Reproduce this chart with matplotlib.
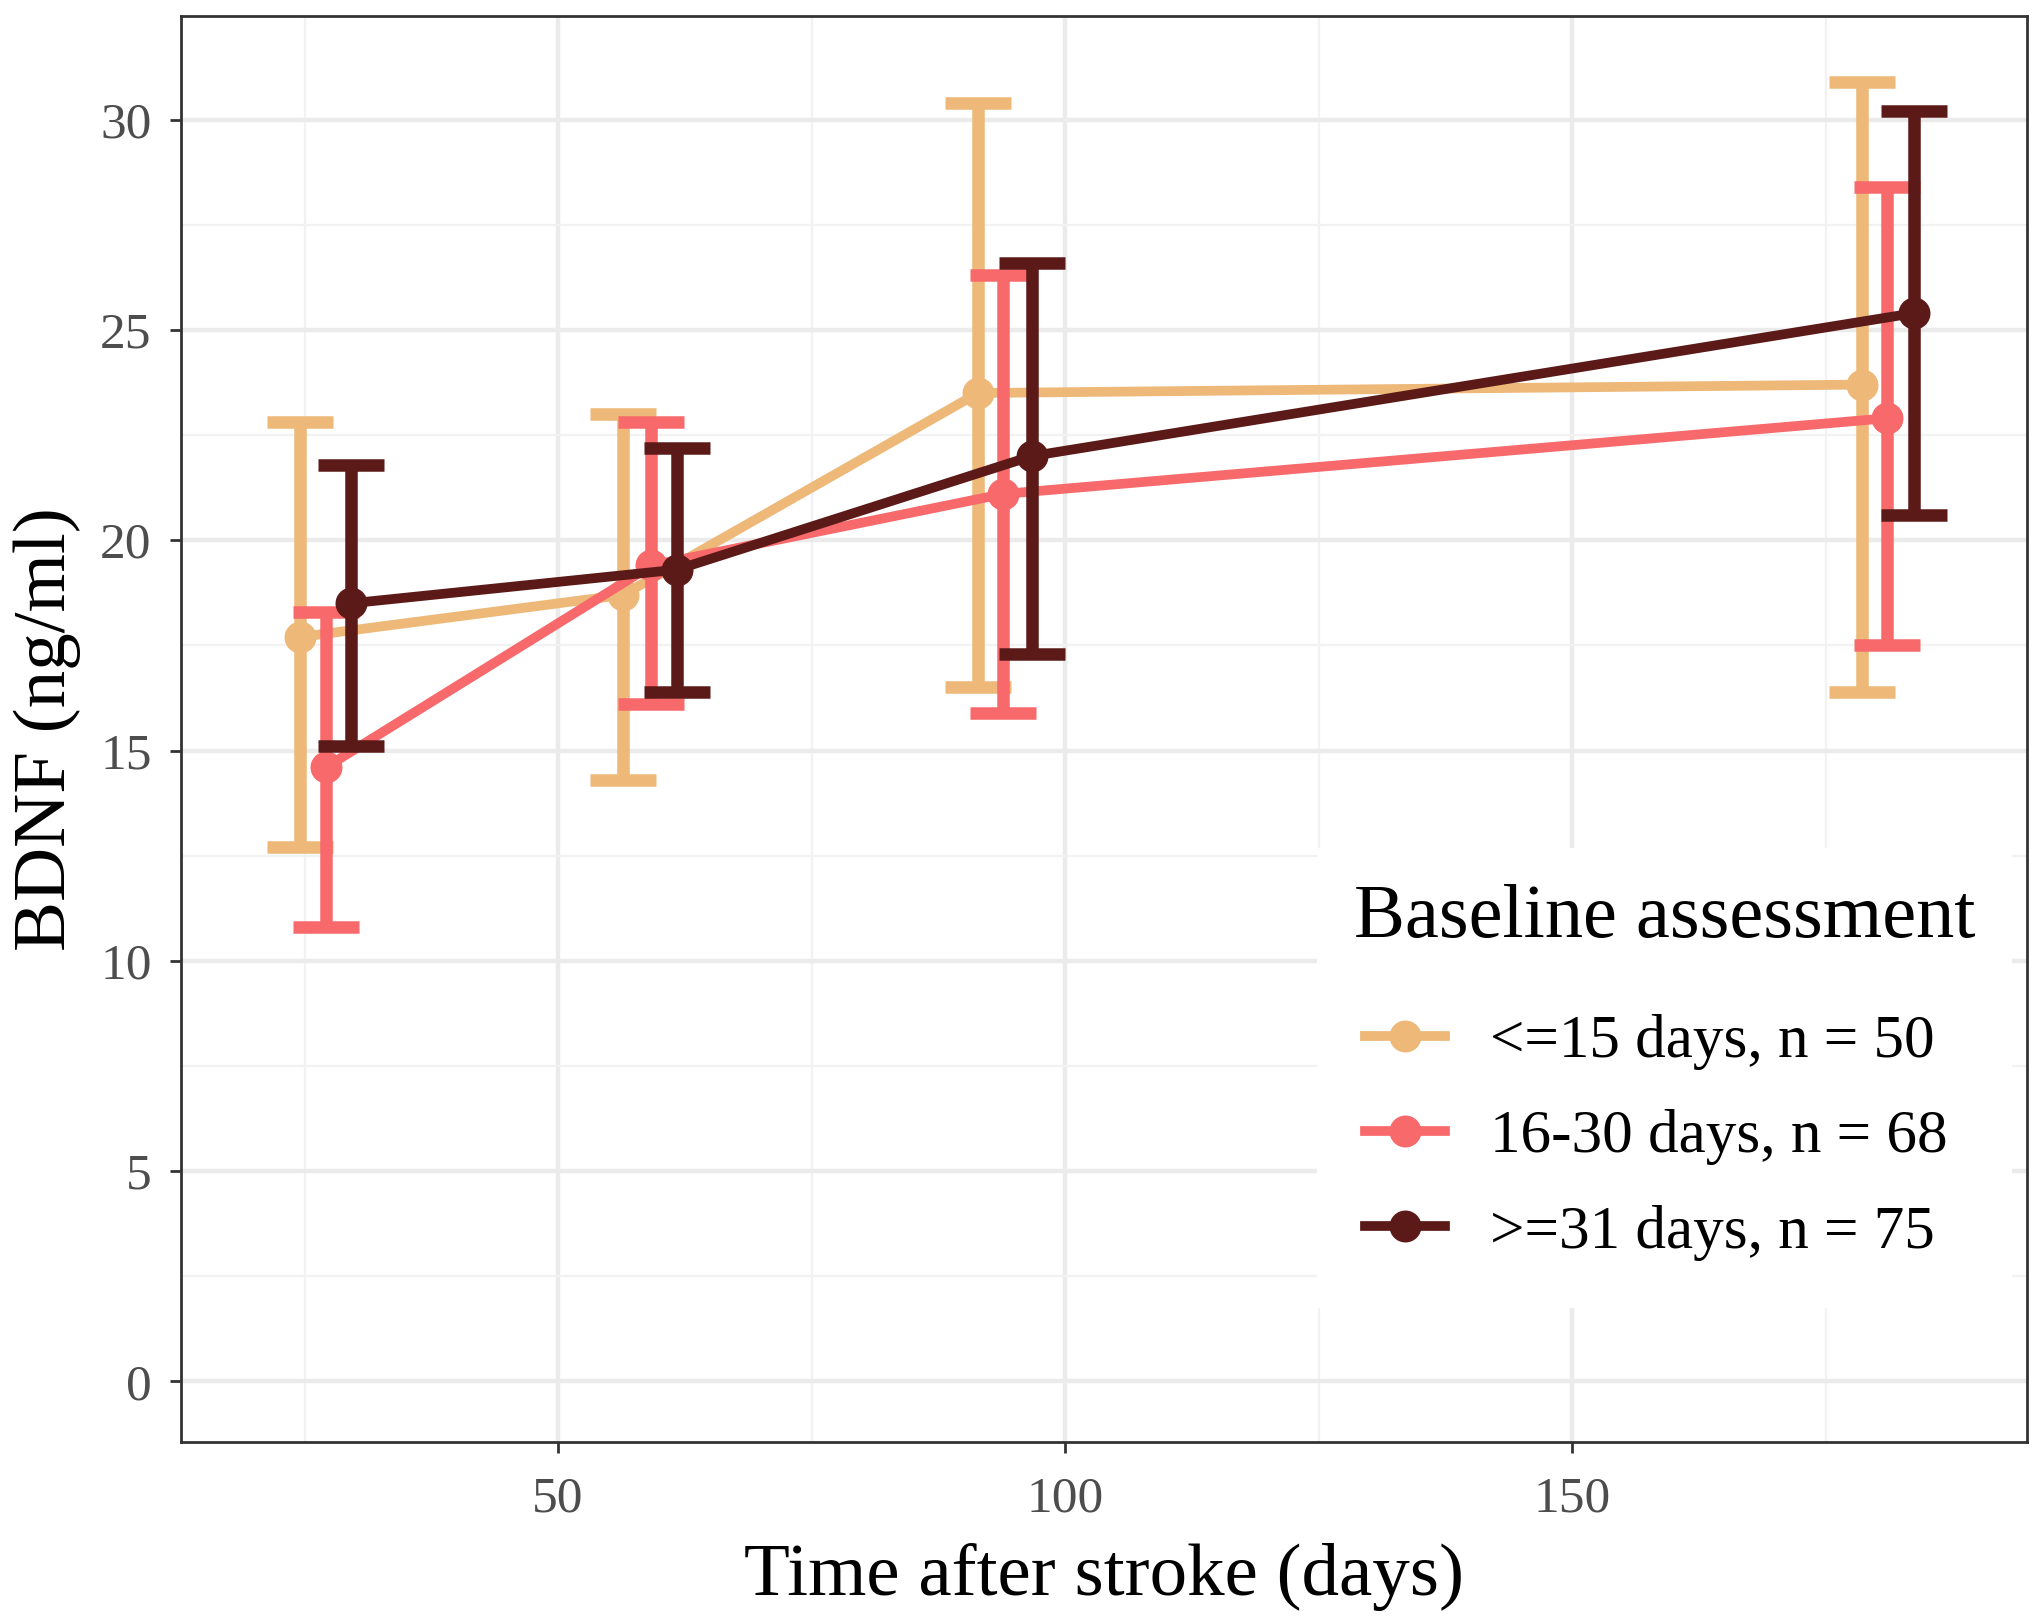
import numpy as np
import matplotlib
matplotlib.use("Agg")
import matplotlib.pyplot as plt
from matplotlib.ticker import MultipleLocator

# group labels and colours
groups = ['<=15 days, n = 50', '16-30 days, n = 68', '>=31 days, n = 75']
colors = ['#EDB878', '#F7696B', '#5B1A18']

# time after stroke (dodged per group), mean BDNF and error bar limits
days_le15 = [24.6, 56.4, 91.4, 178.5]
mean_le15 = [17.7, 18.7, 23.5, 23.7]
lo_le15 = [12.7, 14.3, 16.5, 16.4]
hi_le15 = [22.8, 23.0, 30.4, 30.9]

days_16_30 = [27.1, 59.2, 93.9, 181.0]
mean_16_30 = [14.6, 19.4, 21.1, 22.9]
lo_16_30 = [10.8, 16.1, 15.9, 17.5]
hi_16_30 = [18.3, 22.8, 26.3, 28.4]

days_ge31 = [29.6, 61.7, 96.7, 183.7]
mean_ge31 = [18.5, 19.3, 22.0, 25.4]
lo_ge31 = [15.1, 16.4, 17.3, 20.6]
hi_ge31 = [21.8, 22.2, 26.6, 30.2]

x_ticks = [50, 100, 150]
y_ticks = [0, 5, 10, 15, 20, 25, 30]

plt.rcParams['font.family'] = ['Liberation Serif', 'DejaVu Serif']

fig = plt.figure(figsize=(20.31, 16.17), dpi=100)
ax = fig.add_axes([0.089, 0.108, 0.909, 0.882])

series = [
    (days_le15, mean_le15, lo_le15, hi_le15),
    (days_16_30, mean_16_30, lo_16_30, hi_16_30),
    (days_ge31, mean_ge31, lo_ge31, hi_ge31),
]

for i, (x, m, lo, hi) in enumerate(series):
    x = np.array(x)
    m = np.array(m)
    err = [m - np.array(lo), np.array(hi) - m]
    ax.errorbar(x, m, yerr=err, fmt='none', ecolor=colors[i], elinewidth=9,
                capsize=24, capthick=9, zorder=3 + i)
    ax.plot(x, m, color=colors[i], lw=7, marker='o', markersize=22,
            label=groups[i], zorder=3 + i)

ax.set_xlim(12.8, 194.8)
ax.set_ylim(-1.45, 32.46)
ax.set_xticks(x_ticks)
ax.set_yticks(y_ticks)
ax.xaxis.set_minor_locator(MultipleLocator(25))
ax.yaxis.set_minor_locator(MultipleLocator(2.5))
ax.grid(which='major', color='#EBEBEB', lw=3.2, zorder=0)
ax.grid(which='minor', color='#F2F2F2', lw=1.6, zorder=0)
ax.set_axisbelow(True)

for s in ax.spines.values():
    s.set_color('#333333')
    s.set_linewidth(2)
    s.set_zorder(10)

ax.tick_params(which='major', length=8, width=2, color='#333333',
               labelsize=37, labelcolor='#4D4D4D')
ax.tick_params(axis='x', pad=16)
ax.tick_params(axis='y', pad=13)
ax.tick_params(which='minor', length=0)

ax.set_xlabel('Time after stroke (days)', fontsize=54, labelpad=15)
ax.set_ylabel('BDNF (ng/ml)', fontsize=54, labelpad=14)

leg = ax.legend(title='Baseline assessment', loc='lower right',
                bbox_to_anchor=(0.992, 0.094), fontsize=44, title_fontsize=55,
                frameon=True, facecolor='white', edgecolor='none', framealpha=1,
                handlelength=1.3, handletextpad=0.75, labelspacing=0.64,
                borderpad=0.6, borderaxespad=0, fancybox=False)
leg._legend_box.align = 'left'
leg._legend_box.sep = 36
leg._legend_handle_box.pad = 8
leg.set_zorder(8)

fig.savefig('out.png', dpi=100)
